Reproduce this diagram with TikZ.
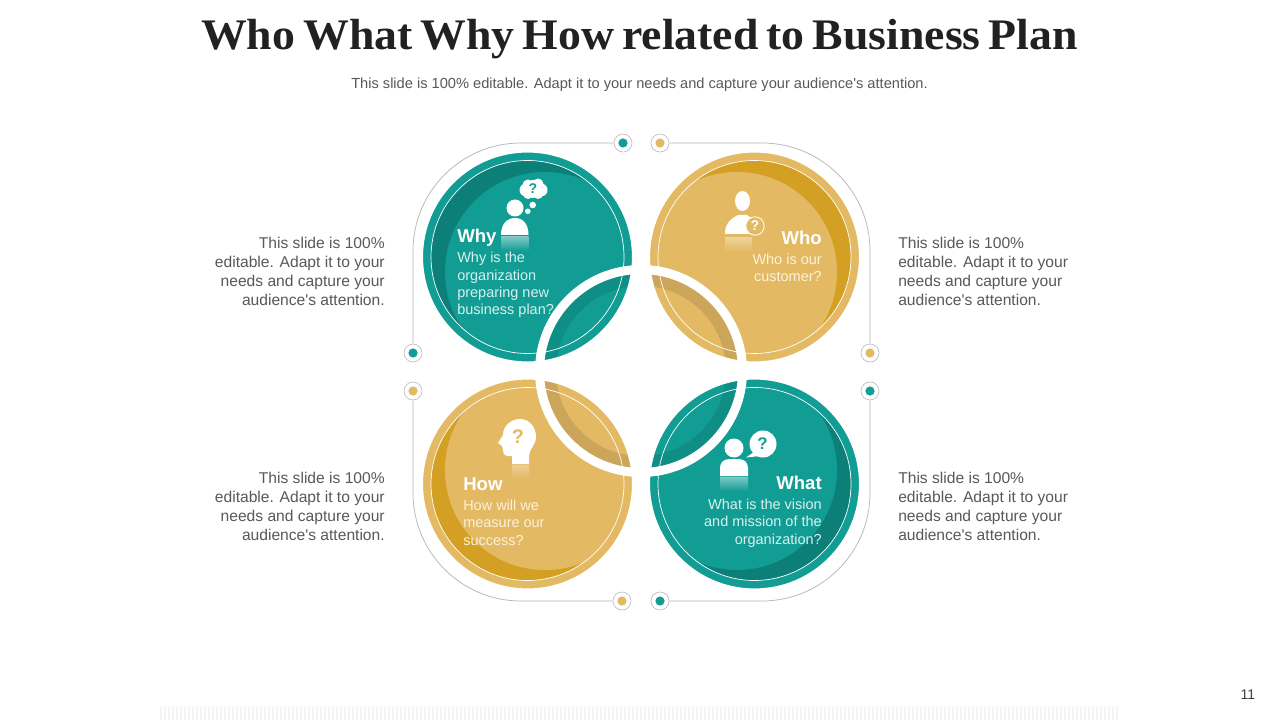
\documentclass[tikz,border=0pt]{standalone}
\usepackage{fontspec}
\setmainfont{Liberation Sans}
\newfontfamily\titlefont[FakeStretch=1.05,WordSpace=0.7]{Liberation Serif}
\definecolor{tealmain}{HTML}{119C94}
\definecolor{tealdark}{HTML}{0C7F78}
\definecolor{tealband}{HTML}{0F8E86}
\definecolor{tealtext}{HTML}{D8F1EF}
\definecolor{goldmain}{HTML}{E3BA63}
\definecolor{golddark}{HTML}{D4A024}
\definecolor{goldband}{HTML}{CBA65A}
\definecolor{goldtext}{HTML}{FBF1DC}
\definecolor{linegray}{HTML}{B4B4B4}
\definecolor{bodygray}{HTML}{595959}
\definecolor{stripegray}{HTML}{F5F5F5}
\newcommand{\sideblurb}{This slide is 100\%\\editable. Adapt it to your\\needs and capture your\\audience\textquotesingle s attention.}
\tikzset{
  dotmark/.style={circle, draw=linegray, fill=white, minimum size=0.45cm, inner sep=0pt,
    path picture={\fill[#1] (path picture bounding box.center) circle (0.115cm);}},
  sidetext/.style={inner sep=0pt, text=bodygray, font=\fontsize{11.1}{13.6}\selectfont},
  headtext/.style={inner sep=0pt, font=\fontsize{13.2}{15}\selectfont\bfseries},
  petaltext/.style={inner sep=0pt, font=\fontsize{10.3}{12.35}\selectfont},
  askmark/.style={inner sep=0pt, font=\fontsize{#1}{#1}\selectfont\bfseries},
  guide/.style={draw=linegray, line width=0.5pt, rounded corners=2.7cm}
}
\begin{document}
\begin{tikzpicture}[x=0.025cm, y=-0.025cm]
\useasboundingbox (0,0) rectangle (1280,720);
\fill[white] (0,0) rectangle (1280,720);
% title
\node[inner sep=0pt, anchor=base, text=black!87, font=\titlefont\fontsize{31}{36}\selectfont\bfseries] (title) at (639.5,50) {Who What Why How related to Business Plan};
\node[inner sep=0pt, text=bodygray, anchor=base, font=\fontsize{10.4}{12}\selectfont] (subtitle) at (639.5,89) {This slide is 100\% editable. Adapt it to your needs and capture your audience\textquotesingle s attention.};
% four circles
\foreach \px/\py/\lx/\ly/\main/\dark/\band in {
  527.5/257/545/272/tealmain/tealdark/tealband,
  754.5/257/737/272/goldmain/golddark/goldband,
  527.5/484/545/470/goldmain/golddark/goldband,
  754.5/484/737/470/tealmain/tealdark/tealband} {
  \begin{scope}
    \clip (\px,\py) circle (105);
    \fill[\main] (\px,\py) circle (105);
    \begin{scope}
      \clip (\px,\py) circle (96.5);
      \fill[\dark] (\px,\py) circle (96.5);
      \fill[\main] (\lx,\ly) circle (100);
    \end{scope}
    \fill[\band] (641,371) circle (98);
    \fill[\main] (641,371) circle (85);
    \draw[white, line width=0.5pt] (\px,\py) circle (96.5);
  \end{scope}
  % clean the clipped rim
  \draw[white, line width=1.5pt] (\px,\py) circle (105.5);
}
\draw[white, line width=0.225cm] (641,371) circle (101.5);
% guide lines and dots
\node[dotmark=tealmain] (whyA) at (623,143) {};
\node[dotmark=tealmain] (whyB) at (413,353) {};
\node[dotmark=goldmain] (whoA) at (660,143) {};
\node[dotmark=goldmain] (whoB) at (870,353) {};
\node[dotmark=goldmain] (howA) at (413,391) {};
\node[dotmark=goldmain] (howB) at (622,601) {};
\node[dotmark=tealmain] (whatA) at (870,391) {};
\node[dotmark=tealmain] (whatB) at (660,601) {};
\draw[guide] (whyA.west) -| (whyB.north);
\draw[guide] (whoA.east) -| (whoB.north);
\draw[guide] (howA.south) |- (howB.west);
\draw[guide] (whatA.south) |- (whatB.east);
% why icon
\fill[white] (515,208) circle (8.5);
\fill[white] (501,235) .. controls (501,224) and (507,218) .. (515,218) .. controls (523,218) and (528.5,224) .. (528.5,235) -- cycle;
\shade[top color=white!45!tealmain, bottom color=tealmain] (501,237) rectangle (528.5,251);
\fill[white] (533,189) circle (9) (526,190) circle (6.5) (541,190) circle (6.5) (528,185) circle (5.5) (538,184) circle (5.5) (528,194) circle (5) (538,194) circle (5);
\fill[white] (532.7,205) circle (3.3) (527.8,211.3) circle (2.8);
\node[askmark=10, text=tealmain] (whyAsk) at (533,189) {?};
% who icon
\fill[white] (742.5,201) ellipse (7.5 and 10);
\fill[white] (725,234) .. controls (725,224) and (730,219) .. (738,215) -- (747,215) .. controls (752,218) and (756,221) .. (757,234) -- cycle;
\shade[top color=white!35!goldmain, bottom color=goldmain] (725,238) rectangle (752,251);
\node[circle, draw=white, fill=goldmain, line width=0.6pt, minimum size=0.46cm, inner sep=0pt, font=\fontsize{10}{10}\selectfont\bfseries, text=white] (whoAsk) at (755,226) {?};
% how icon
\fill[white] (512,464) -- (512,456) .. controls (506,457) and (503,455) .. (503,450) -- (502,446) -- (498,443) -- (503,435) .. controls (503,425) and (512,419) .. (520,419) .. controls (530,419) and (536,428) .. (536,437) .. controls (536,445) and (529,449) .. (529,456) -- (529,464) -- cycle;
\shade[top color=white!30!goldmain, bottom color=goldmain] (512,465) rectangle (529,479);
\node[askmark=14, text=goldmain] (howAsk) at (518,437) {?};
% what icon
\fill[white] (734,448) circle (9.5);
\fill[white] (720,476) -- (720,468) .. controls (720,462) and (724,459) .. (730,459) -- (738,459) .. controls (744,459) and (748,462) .. (748,468) -- (748,476) -- cycle;
\shade[top color=white!45!tealmain, bottom color=tealmain] (720,477) rectangle (748,491);
\fill[white] (763,444) circle (13.5);
\fill[white] (754,452) -- (746,457.5) -- (760,456) -- cycle;
\node[askmark=12, text=tealmain] (whatAsk) at (762.5,444) {?};
% circle texts
\node[headtext, text=white, anchor=base west] (whyHead) at (457,243) {Why};
\node[petaltext, text=tealtext, align=left, anchor=north west] (whyText) at (457,252) {Why is the\\organization\\preparing new\\business plan?};
\node[headtext, text=white, anchor=base east] (whoHead) at (822,245) {Who};
\node[petaltext, text=goldtext, align=right, anchor=north east] (whoText) at (822,253.5) {Who is our\\customer?};
\node[headtext, text=white, anchor=base west] (howHead) at (463,490) {How};
\node[petaltext, text=goldtext, align=left, anchor=north west] (howText) at (463,499.5) {How will we\\measure our\\success?};
\node[headtext, text=white, anchor=base east] (whatHead) at (822,489) {What};
\node[petaltext, text=tealtext, align=right, anchor=north east] (whatText) at (822,498.5) {What is the vision\\and mission of the\\organization?};
% side texts
\node[sidetext, align=right, anchor=north east] (whySide) at (385,237) {\sideblurb};
\node[sidetext, align=left, anchor=north west] (whoSide) at (898,237) {\sideblurb};
\node[sidetext, align=right, anchor=north east] (howSide) at (385,472) {\sideblurb};
\node[sidetext, align=left, anchor=north west] (whatSide) at (898,472) {\sideblurb};
% footer
\foreach \sx in {160,164,...,1116} {
  \fill[stripegray] (\sx,706) rectangle ++(2,14);
}
\node[inner sep=0pt, text=black!75, font=\fontsize{10}{12}\selectfont] (pagenum) at (1248,695) {11};
\end{tikzpicture}
\end{document}
